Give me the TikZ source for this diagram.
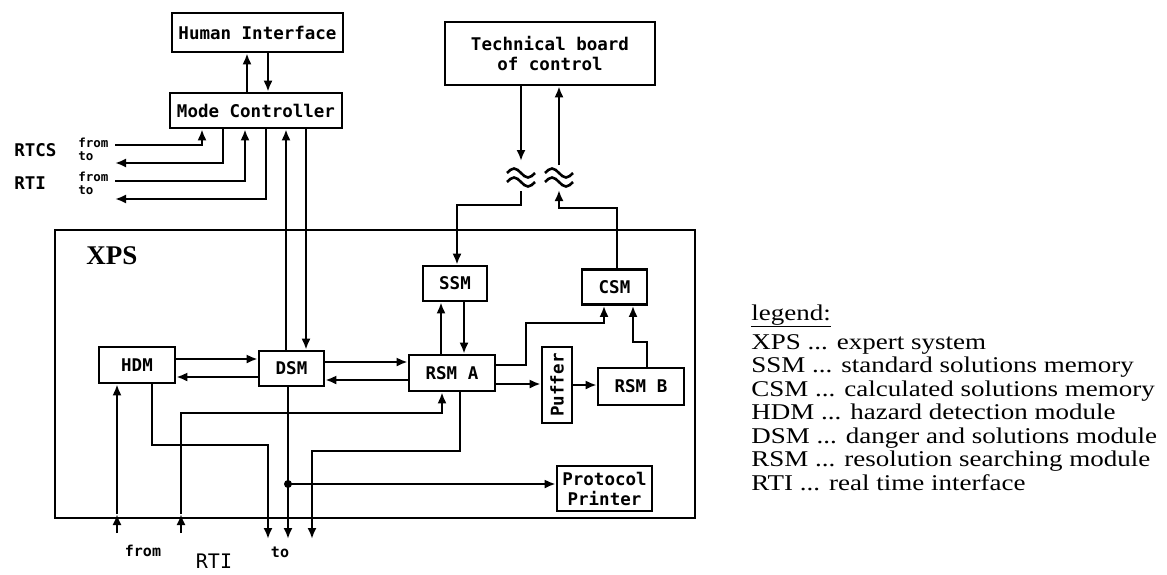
\documentclass[tikz,border=0pt]{standalone}
\usepackage{fontspec}
\newfontfamily\plotfont{DejaVu Sans Mono}
\newfontfamily\legfont[FakeStretch=1.2]{Liberation Serif}
\newfontfamily\xpsfont{Liberation Serif}
\usetikzlibrary{arrows.meta}
\begin{document}
\begin{tikzpicture}[x=1pt,y=-1pt,
  line width=2.6pt,
  >={Latex[length=11pt,width=9pt]},
  box/.style 2 args={draw, minimum width=#1pt, minimum height=#2pt, inner sep=0pt,
     font=\plotfont\bfseries\fontsize{17.5}{20}\selectfont, align=center},
  lbl/.style={font=\plotfont\bfseries\fontsize{17.5}{20}\selectfont, inner sep=0pt},
  small/.style={font=\plotfont\bfseries\fontsize{12.5}{12.5}\selectfont, inner sep=0pt, anchor=west},
  bsmall/.style={font=\plotfont\bfseries\fontsize{15}{15}\selectfont, inner sep=0pt},
  leg/.style={font=\legfont\fontsize{22.5}{23}\selectfont, anchor=base west, inner sep=0pt,
     text height=15pt, text depth=4pt},
]
\useasboundingbox (0,0) rectangle (1167,574);

% outer XPS frame
\node[draw, minimum width=640pt, minimum height=288pt, inner sep=0pt] (xps) at (375,374) {};
\node[font=\xpsfont\bfseries\fontsize{27}{27}\selectfont, inner sep=0pt] (xpsl) at (112,256) {XPS};

% boxes
\node[box={171}{39}] (hi) at (257.5,32.5) {Human Interface};
\node[box={172}{35}] (mc) at (256,110.5) {Mode Controller};
\node[box={210}{63}] (tbc) at (550,53.5) {Technical board\\of control};
\node[box={64}{35}] (ssm) at (455,283.5) {SSM};
\node[box={65}{35}] (csm) at (614.5,287) {CSM};
\node[box={76}{36}] (hdm) at (137,365) {HDM};
\node[box={65}{35}] (dsm) at (291.5,368.5) {DSM};
\node[box={86}{36}] (rsma) at (452,373) {RSM A};
\node[box={30}{76}] (puf) at (557,385) {};
\node[lbl, rotate=90] (puft) at (puf.center) {Puffer};
\node[box={86}{37}] (rsmb) at (641,386.5) {RSM B};
\node[box={95}{45}] (pp) at (604.5,488.5) {Protocol\\Printer};

% Human interface <-> mode controller
\draw[->] (mc.north -| 247,0) -- (hi.south -| 247,0);
\draw[->] (hi.south -| 268,0) -- (mc.north -| 268,0);

% RTCS / RTI at left
\coordinate (rtcsf) at (115,145);
\coordinate (rtcst) at (115,163);
\coordinate (rtif) at (115,181);
\coordinate (rtit) at (115,199);
\draw[->] (rtcsf) -| (mc.south -| 202,0);
\draw[->] (mc.south -| 223,0) |- (rtcst);
\draw[->] (rtif) -| (mc.south -| 245,0);
\draw[->] (mc.south -| 266,0) |- (rtit);
\node[lbl, anchor=west] (rtcs) at (13,150) {RTCS};
\node[small] (rtcsfl) at (77,143) {from};
\node[small] (rtcstl) at (77,156) {to};
\node[lbl, anchor=west] (rti1) at (13,183) {RTI};
\node[small] (rtifl) at (77,177) {from};
\node[small] (rititl) at (77,190) {to};

% DSM <-> mode controller
\draw[->] (dsm.north -| 286,0) -- (mc.south -| 286,0);
\draw[->] (mc.south -| 306,0) -- (dsm.north -| 306,0);

% Technical board and the wave symbols
\coordinate (w1) at (521,177);
\coordinate (w2) at (559,177);
\coordinate (w1top) at (521,161);
\coordinate (w2top) at (559,165);
\coordinate (w1bot) at (521,191);
\coordinate (w2bot) at (559,190);
\draw[->] (tbc.south -| w1) -- (w1top);
\draw[->] (w2top) -- (tbc.south -| w2);
\foreach \c in {521,559}{
  \draw (\c-14,173) sin (\c-7,168.5) cos (\c,173) sin (\c+7,177.5) cos (\c+14,173);
  \draw (\c-14,182) sin (\c-7,177.5) cos (\c,182) sin (\c+7,186.5) cos (\c+14,182);
}
\draw[->] (w1bot) -- (521,205) -| (ssm.north -| 457,0);
\draw[->] (csm.north -| 617,0) |- (559,208) -- (w2bot);

% RSM A <-> SSM
\draw[->] (rsma.north -| 441,0) -- (ssm.south -| 441,0);
\draw[->] (ssm.south -| 464,0) -- (rsma.north -| 464,0);

% HDM <-> DSM <-> RSM A
\draw[->] (hdm.east |- 0,359) -- (dsm.west |- 0,359);
\draw[->] (dsm.west |- 0,377) -- (hdm.east |- 0,377);
\draw[->] (dsm.east |- 0,362) -- (rsma.west |- 0,362);
\draw[->] (rsma.west |- 0,380) -- (dsm.east |- 0,380);

% RSM A -> CSM, Puffer, RSM B
\draw[->] (rsma.east |- 0,365) -- (526,365) |- (604,323) -- (csm.south -| 604,0);
\draw[->] (rsma.east |- 0,384) -- (puf.west |- 0,384);
\draw[->] (puf.east |- 0,385) -- (rsmb.west |- 0,385);
\draw[->] (rsmb.north -| 647,0) |- (633,342) -- (csm.south -| 633,0);

% bottom RTI connections
\coordinate (f1) at (117,533);
\coordinate (f2) at (181,533);
\coordinate (b1) at (117,514);
\coordinate (b2) at (181,514);
\coordinate (t1) at (268,539);
\coordinate (t2) at (288,539);
\coordinate (t3) at (312,539);
\draw[->] (f1) -- (b1);
\draw[->] (b1) -- (hdm.south -| b1);
\draw[->] (f2) -- (b2);
\draw[->] (b2) |- (442,413) -- (rsma.south -| 442,0);
\draw[->] (hdm.south -| 152,0) |- (268,445) -- (t1);
\draw[->] (dsm.south -| t2) -- (t2);
\coordinate (dot) at (288,484);
\fill (dot) circle (4pt);
\draw[->] (dot) -- (pp.west |- dot);
\draw[->] (rsma.south -| 460,0) |- (312,451) -- (t3);

\node[bsmall] (bfrom) at (143,551) {from};
\node[bsmall] (bto) at (280,552) {to};
\node[font=\plotfont\fontsize{20}{20}\selectfont, inner sep=0pt] (brti) at (214,561) {RTI};

% legend
\node[leg] (lg0) at (750,320) {\underline{legend:}};
\node[leg] (lg1) at (750,349) {XPS ... expert system};
\node[leg] (lg2) at (750,372.5) {SSM ... standard solutions memory};
\node[leg] (lg3) at (750,396) {CSM ... calculated solutions memory};
\node[leg] (lg4) at (750,419.5) {HDM ... hazard detection module};
\node[leg] (lg5) at (750,443) {DSM ... danger and solutions module};
\node[leg] (lg6) at (750,466.5) {RSM ... resolution searching module};
\node[leg] (lg7) at (750,490) {RTI ... real time interface};
\end{tikzpicture}
\end{document}
